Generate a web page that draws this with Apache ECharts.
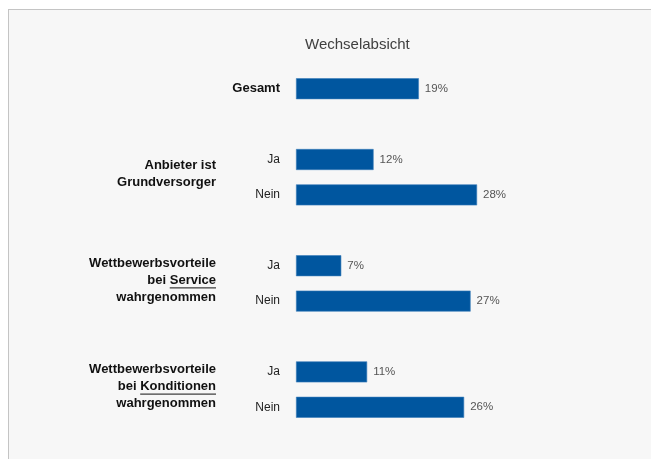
<!DOCTYPE html>
<html>
<head>
<meta charset="utf-8">
<script src="https://cdn.jsdelivr.net/npm/echarts@6/dist/echarts.min.js"></script>
<style>
html,body{margin:0;padding:0;background:#fff;width:651px;height:459px;overflow:hidden;}
#panel{position:absolute;left:8px;top:9px;right:0;bottom:0;background:#f7f7f7;border-top:1px solid #c4c4c4;border-left:1px solid #c4c4c4;}
#chart{position:absolute;left:0;top:0;width:651px;height:459px;}
</style>
</head>
<body>
<div id="panel"></div>
<div id="chart"></div>
<script>
// Data
var titleText = 'Wechselabsicht';
var categories = ['Gesamt', '', 'Ja', 'Nein', '', 'Ja', 'Nein', '', 'Ja', 'Nein'];
var values = [19, null, 12, 28, null, 7, 27, null, 11, 26];
var groupLines = [
  ['Anbieter ist', 'Grundversorger'],
  ['Wettbewerbsvorteile', 'bei |Service', 'wahrgenommen'],
  ['Wettbewerbsvorteile', 'bei |Konditionen', 'wahrgenommen']
];
var groupRows = [[2, 3], [5, 6], [8, 9]];

var FONT = '"Liberation Sans", Arial, Helvetica, sans-serif';
var chart = echarts.init(document.getElementById('chart'), null, {renderer: 'canvas'});

chart.setOption({
  backgroundColor: 'transparent',
  animation: false,
  title: {
    text: titleText,
    left: 300, top: 32,
    textStyle: {fontFamily: FONT, fontSize: 15, fontWeight: 'normal', color: '#404040'}
  },
  grid: {left: 296, top: 71, width: 194, height: 354, containLabel: false},
  xAxis: {type: 'value', min: 0, max: 30, show: false},
  yAxis: {
    type: 'category', inverse: true, data: categories,
    axisLine: {show: false}, axisTick: {show: false}, splitLine: {show: false},
    axisLabel: {
      margin: 16, fontFamily: FONT, fontSize: 12, color: '#222',
      formatter: function (v) { return v === 'Gesamt' ? '{b|' + v + '}' : v; },
      rich: {b: {fontFamily: FONT, fontSize: 13, fontWeight: 'bold', color: '#111'}}
    }
  },
  series: [{
    type: 'bar', data: values, barWidth: 21,
    itemStyle: {color: '#00569f', borderColor: '#3a7dba', borderWidth: 0.6},
    label: {
      show: true, position: 'right', distance: 6,
      fontFamily: FONT, fontSize: 11.5, color: '#555',
      formatter: function (p) { return p.value + '%'; }
    }
  }]
});

// Group labels (right-aligned, bold) with underlined keywords
var ctx = document.createElement('canvas').getContext('2d');
var BOLD = 'bold 13px ' + FONT;
ctx.font = BOLD;
var rightX = 216, lineH = 17;
var elements = [];
groupLines.forEach(function (lines, gi) {
  var y1 = chart.convertToPixel({yAxisIndex: 0}, groupRows[gi][0]);
  var y2 = chart.convertToPixel({yAxisIndex: 0}, groupRows[gi][1]);
  var cy = (y1 + y2) / 2 - 3;
  var top = cy - lines.length * lineH / 2;
  lines.forEach(function (ln, li) {
    var parts = ln.split('|');
    var txt = parts.join('');
    var ly = top + li * lineH + lineH / 2;
    elements.push({
      type: 'text', x: rightX, y: ly,
      style: {text: txt, font: BOLD, fill: '#111', align: 'right', verticalAlign: 'middle'}
    });
    if (parts.length > 1) {
      var w = ctx.measureText(parts[1]).width;
      elements.push({
        type: 'line',
        shape: {x1: rightX - w, y1: ly + 7.5, x2: rightX, y2: ly + 7.5},
        style: {stroke: '#111', lineWidth: 1}
      });
    }
  });
});
chart.setOption({graphic: elements});
</script>
</body>
</html>
